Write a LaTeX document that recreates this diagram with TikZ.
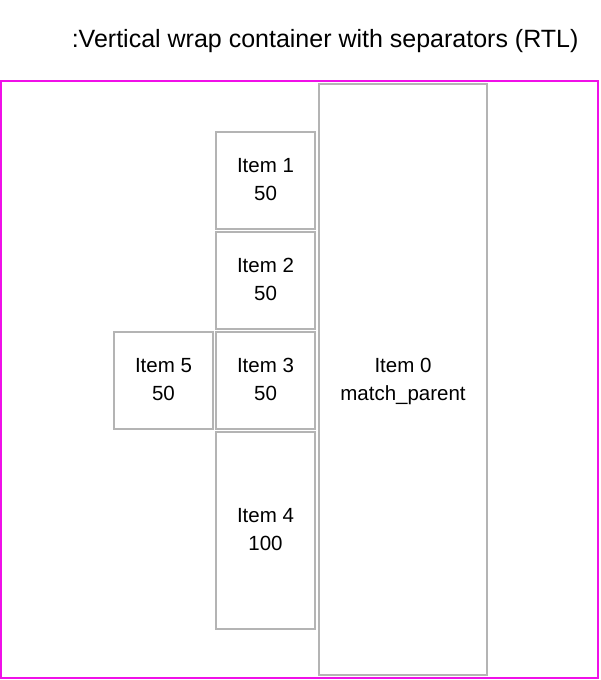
\documentclass[tikz,border=0pt]{standalone}
\usepackage{fontspec}
\setmainfont{Liberation Sans}
\usetikzlibrary{positioning}
\definecolor{boxgray}{HTML}{B4B4B4}
\definecolor{wrapmag}{HTML}{F010E8}

\begin{document}
\begin{tikzpicture}[x=1pt,y=-1pt,node distance=3pt]
  \tikzstyle{item}=[rectangle,draw=boxgray,line width=2pt,outer sep=0pt,
                    minimum width=99pt,minimum height=97pt,align=center,
                    text depth=1pt,font=\fontsize{20.5}{28}\selectfont]
  \tikzstyle{tall item}=[item,minimum height=197pt]
  \useasboundingbox (0,0) rectangle (600,680);
  \node [anchor=east,font=\fontsize{25}{30}\selectfont] (title) at (582,41)
    {:Vertical wrap container with separators (RTL)};
  \draw [wrapmag,line width=2pt] (1,81) rectangle (598,678);
  \node [item,minimum width=168pt,minimum height=591pt] (i0) at (403,379.5) {Item 0\\match\_parent};
  \node [item] (i1) at (265.5,180) {Item 1\\50};
  \node [item] (i2) [below=of i1] {Item 2\\50};
  \node [item] (i3) [below=of i2] {Item 3\\50};
  \node [tall item] (i4) [below=of i3] {Item 4\\100};
  \node [item] (i5) [left=of i3] {Item 5\\50};
\end{tikzpicture}
\end{document}
